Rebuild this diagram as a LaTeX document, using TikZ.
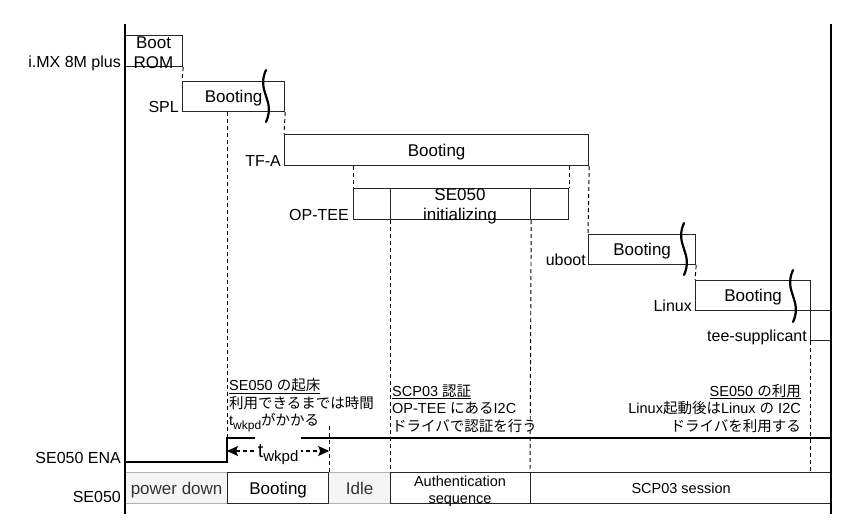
\documentclass[tikz,border=0pt]{standalone}
\usepackage{fontspec}
\setmainfont{Liberation Sans}
\newfontfamily\jpfont{Noto Sans CJK JP}
\newcommand{\ja}[1]{{\jpfont #1}}
\usetikzlibrary{arrows.meta}
\definecolor{idlefill}{HTML}{F5F5F5}
\definecolor{idleline}{HTML}{B3B3B3}
\definecolor{idletext}{HTML}{333333}

\begin{document}
\begin{tikzpicture}[x=1pt, y=-1pt,
  box/.style={draw=black!85, line width=1.2pt, anchor=north west, inner sep=0pt,
    font=\fontsize{17}{20.4}\selectfont, text height=12.2pt, text depth=0pt},
  idlebox/.style={box, fill=idlefill, draw=idleline, text=idletext},
  boxtext/.style={font=\fontsize{17}{20.4}\selectfont, align=center, anchor=base, inner sep=0pt},
  lbl/.style={anchor=base east, font=\fontsize{16}{19}\selectfont, inner sep=0pt},
  note/.style={font=\fontsize{14.5}{17.5}\selectfont, inner sep=0pt},
  guide/.style={line width=0.95pt, dash pattern=on 4pt off 3pt},
  brk/.style={line width=2.2pt, line cap=round},
  wire/.style={line width=1.1pt}]

\useasboundingbox[fill=white] (0,0) rectangle (863,528);

\coordinate (ltop) at (125,24);
\coordinate (lbot) at (125,514);
\coordinate (rtop) at (831,24);
\coordinate (rbot) at (831,514);
\coordinate (enalo) at (125,462);
\coordinate (enaup) at (227,438);

% boot chain
\node[box, minimum width=57pt, minimum height=31pt] (rom) at (125,35) {};
\node[boxtext] (romtxt) at (153.5,68.7) {Boot\\ROM};
\node[box, minimum width=102pt, minimum height=30pt] (spl) at (182,81) {Booting};
\node[box, minimum width=304pt, minimum height=31pt] (tfa) at (284,134) {Booting};
\node[box, minimum width=37pt, minimum height=31pt] (opl) at (353,188) {};
\node[box, minimum width=140pt, minimum height=31pt] (opinit) at (390,188) {};
\node[box, minimum width=38pt, minimum height=31pt] (opr) at (530,188) {};
\node[boxtext] (opinittxt) at (460,220.4) {SE050\\initializing};
\node[box, minimum width=107pt, minimum height=30pt] (uboot) at (588,234) {Booting};
\node[box, minimum width=115pt, minimum height=30pt] (linux) at (695,280) {Booting};
\node[box, minimum width=21pt, minimum height=30pt] (tee) at (810,310) {};

\foreach \bx/\by in {266/70, 684/223, 793/270}
  \draw[brk] (\bx,\by) .. controls (\bx-10,\by+22) and (\bx+10,\by+30) .. (\bx,\by+52);

\node[lbl] (imxlbl) at ([xshift=-4pt]rom.south west) {i.MX 8M plus};
\node[lbl] (spllbl) at ([xshift=-3pt]spl.south west) {SPL};
\node[lbl] (tfalbl) at ([xshift=-3pt]tfa.south west) {TF-A};
\node[lbl] (optlbl) at ([xshift=-4pt]opl.south west) {OP-TEE};
\node[lbl] (ubootlbl) at ([xshift=-2pt]uboot.south west) {uboot};
\node[lbl] (linuxlbl) at ([xshift=-3pt]linux.south west) {Linux};
\node[lbl] (teelbl) at ([xshift=-3pt]tee.south west) {tee-supplicant};

% SE050 states
\node[idlebox, minimum width=102pt, minimum height=31pt] (sepd) at (125,472) {power down};
\node[idlebox, minimum width=62pt, minimum height=31pt] (seidle) at (328,472) {Idle};
\node[box, minimum width=101pt, minimum height=31pt] (seboot) at (227,472) {Booting};
\node[box, minimum width=140pt, minimum height=31pt] (seauth) at (390,472) {};
\node[box, minimum width=301pt, minimum height=31pt, font=\fontsize{14.5}{17}\selectfont,
  text height=10.4pt] (sescp) at (530,472) {SCP03 session};
\node[boxtext, font=\fontsize{14.5}{17}\selectfont] (seauthtxt) at (460,503) {Authentication\\sequence};

\node[lbl] (enalbl) at ([xshift=-4pt, yshift=-1pt]enalo) {SE050 ENA};
\node[lbl] (selbl) at ([xshift=-4pt, yshift=1.5pt]sepd.south west) {SE050};

\draw[guide] (rom.south east) -- (spl.north west);
\draw[guide] (spl.south east) -- (tfa.north west);
\draw[guide] (seboot.north west |- spl.south) -- (enaup);
\draw[guide] (opl.north west |- tfa.south) -- (opl.north west);
\draw[guide] (opr.north east |- tfa.south) -- (opr.north east);
\draw[guide] (opinit.south west) -- (seauth.north west);
\draw[guide] (opinit.south east) -- (sescp.north west);
\draw[guide] (tfa.south east) -- (uboot.north west);
\draw[guide] (uboot.south east) -- (linux.north west);
\draw[guide] (tee.south west) -- (tee.south west |- sescp.north);
\draw[guide] (seboot.north east) -- ++(0,-47);

\draw[wire] (ltop) -- (lbot);
\draw[wire] (rtop) -- (rbot);
\draw[wire] (enalo) -| (enaup) -- (enaup -| rtop);

\draw[guide, line width=1.2pt, {Stealth[length=11pt, width=10pt, inset=2pt]}-{Stealth[length=11pt, width=10pt, inset=2pt]}]
  (seboot.north west |- 0,451) -- (seboot.north east |- 0,451)
  node[midway, fill=white, inner xsep=3pt, inner ysep=0pt, text height=20.3pt, text depth=7.7pt] (wkpdlbl)
  {\fontsize{20}{24}\selectfont t\raisebox{-4.5pt}{\fontsize{15}{18}\selectfont wkpd}};

% notes
\node[note, anchor=base west, align=left] (wakenote) at (229,425.5)
  {\underline{SE050 \ja{の起床}}\\\ja{利用できるまでは時間}\\t\raisebox{-3.5pt}{\fontsize{12}{14}\selectfont wkpd}\ja{がかかる}};
\node[note, anchor=base west, align=left] (authnote) at (392,431)
  {\underline{SCP03 \ja{認証}}\\OP-TEE \ja{にある}I2C\\\ja{ドライバで認証を行う}};
\node[note, anchor=base east, align=right] (usenote) at (801,431)
  {\underline{SE050 \ja{の利用}}\\Linux\ja{起動後は}Linux \ja{の} I2C\\\ja{ドライバを利用する}};
\end{tikzpicture}
\end{document}
